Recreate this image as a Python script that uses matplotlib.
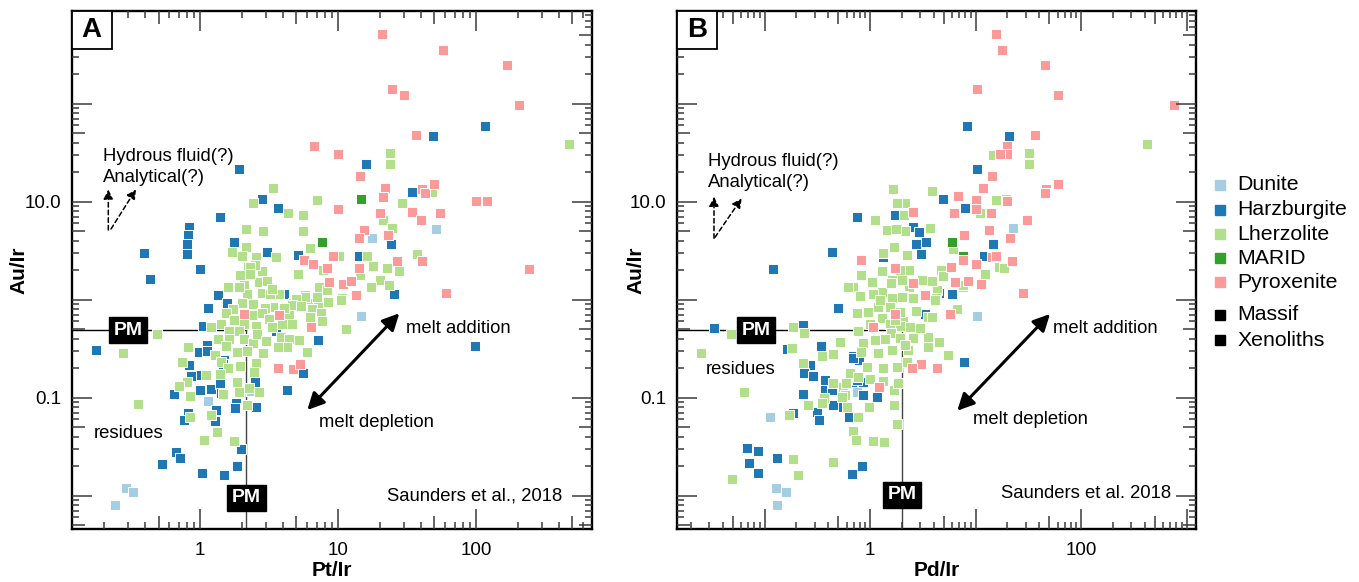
import matplotlib
matplotlib.use("Agg")
import matplotlib.pyplot as plt
import numpy as np
from matplotlib.transforms import blended_transform_factory
from matplotlib.patches import Rectangle
from matplotlib.lines import Line2D
from matplotlib.ticker import NullLocator

plt.rcParams['font.family'] = ['Liberation Sans', 'DejaVu Sans']
plt.rcParams['font.size'] = 13.3

# ---------------- data ----------------
colors = {'Dunite': '#a6cee3', 'Harzburgite': '#1f78b4', 'Lherzolite': '#b2df8a',
          'MARID': '#33a02c', 'Pyroxenite': '#fb9a99'}

pm_pt_ir = 2.17
pm_pd_ir = 2.02
pm_au_ir = 0.49

# Panel A : Pt/Ir vs Au/Ir
a_dun_x = [51.3, 17.6, 14.7, 1.15, 2.33, 0.289, 0.325, 0.24]
a_dun_y = [5.3, 4.26, 0.68, 0.0925, 0.117, 0.012, 0.0109, 0.0080]

a_hzb_x = [117, 48.6, 15.9, 34.3, 24.3, 14.2, 25.5, 98, 5.16, 1.91, 2.83, 3.69, 1.40, 0.83, 0.82,
           0.80, 0.81, 0.395, 1.77, 3.04, 0.995, 0.432, 1.35, 4.06, 1.58, 1.15, 1.05, 1.13, 0.98, 1.50,
           0.83, 1.0, 0.86, 0.648, 1.20, 1.40, 1.42, 1.82, 1.80, 2.56, 2.49, 0.78, 1.30, 1.31, 4.27,
           7.14, 5.57, 1.47, 3.55, 0.177, 1.12, 0.82, 0.76, 1.29, 1.97, 0.67, 0.72, 0.53, 1.03, 1.49,
           1.86, 1.0]
a_hzb_y = [59.2, 46.9, 24.1, 12.5, 3.70, 2.79, 1.14, 0.34, 2.84, 21.6, 10.7, 8.7, 7.0, 5.56, 4.57,
           3.70, 2.91, 3.02, 3.90, 3.09, 2.04, 1.62, 1.12, 1.14, 0.93, 0.82, 0.54, 0.342, 0.29, 0.243,
           0.216, 0.171, 0.166, 0.109, 0.123, 0.137, 0.111, 0.088, 0.079, 0.080, 0.146, 0.061, 0.064, 0.075, 0.119,
           0.385, 0.180, 0.221, 0.48, 0.307, 0.30, 0.070, 0.059, 0.058, 0.030, 0.028, 0.024, 0.021, 0.0171, 0.0163,
           0.020, 0.120]

a_lhz_x = [472, 24.0, 24.0, 48.3, 29.0, 21.2, 24.6, 10.2, 16.1, 18.0, 22.8, 27.5, 37.5, 14.4, 20.2,
           23.3, 17.2, 10.6, 11.7, 7.0, 5.55, 5.55, 6.3, 5.1, 7.3, 7.8, 5.8, 4.74, 6.1, 7.2,
           3.36, 2.43, 4.36, 2.15, 2.85, 2.15, 1.71, 2.02, 2.53, 3.57, 2.24, 2.80, 1.95, 2.68, 2.09,
           1.59, 2.19, 2.83, 3.72, 2.50, 3.07, 1.91, 3.21, 5.80, 7.04, 4.96, 4.62, 5.36, 6.48, 7.56,
           7.6, 6.26, 4.41, 4.08, 3.40, 2.94, 2.42, 2.01, 1.73, 1.53, 2.38, 2.80, 3.15, 2.08, 2.55,
           1.43, 1.20, 1.63, 1.91, 1.34, 1.63, 2.09, 2.43, 2.87, 2.19, 1.84, 1.54, 1.28, 1.43, 1.59,
           1.94, 2.56, 2.46, 0.82, 0.74, 1.10, 1.39, 1.85, 1.92, 2.68, 2.25, 2.18, 1.46, 0.81, 0.70,
           0.84, 1.21, 0.84, 0.485, 3.83, 4.44, 5.18, 5.96, 4.62, 3.9, 4.25, 3.66, 3.34, 2.30, 0.278,
           0.354, 1.07, 1.32, 1.77, 10.5, 11.5, 8.27, 8.5, 3.31, 2.30, 1.75, 2.6, 3.0]
a_lhz_y = [38.6, 31.6, 24.2, 12.7, 9.6, 6.5, 5.4, 2.79, 2.79, 2.22, 2.12, 1.98, 2.9, 1.79, 1.59,
           1.40, 1.36, 1.03, 0.51, 10.3, 7.4, 5.06, 3.37, 1.82, 1.36, 2.01, 1.11, 0.92, 0.93, 0.93,
           13.7, 9.7, 7.6, 5.3, 5.06, 3.45, 3.05, 2.79, 2.75, 2.75, 2.17, 1.98, 1.77, 1.53, 1.41,
           1.34, 1.14, 1.16, 1.14, 2.27, 1.55, 1.36, 1.14, 1.07, 1.06, 1.02, 0.88, 0.86, 0.81, 0.73,
           0.60, 0.66, 0.70, 0.82, 0.85, 0.82, 0.90, 0.93, 0.80, 0.74, 0.69, 0.73, 0.63, 0.56, 0.54,
           0.57, 0.53, 0.48, 0.48, 0.395, 0.40, 0.395, 0.36, 0.285, 0.30, 0.295, 0.337, 0.273, 0.233, 0.20,
           0.212, 0.224, 0.184, 0.327, 0.23, 0.171, 0.175, 0.145, 0.114, 0.114, 0.125, 0.084, 0.109, 0.145, 0.133,
           0.104, 0.067, 0.063, 0.45, 0.416, 0.395, 0.388, 0.293, 0.56, 0.56, 0.33, 0.33, 0.53, 2.17, 0.286,
           0.086, 0.037, 0.045, 0.036, 0.99, 0.50, 1.26, 0.95, 1.28, 1.83, 0.62, 0.45, 0.38]

a_mar_x = [14.7, 7.65]
a_mar_y = [10.6, 3.9]

a_pyx_x = [20.7, 57.8, 168, 24.7, 30.2, 206, 36.7, 10.0, 6.7, 14.5, 21.9, 21.2, 40.3, 42.4, 49.8,
           100, 120, 10.0, 20.0, 34.1, 55.0, 39.9, 15.4, 14.3, 22.9, 9.2, 40.3, 26.6, 14.3, 243,
           10.9, 12.4, 13.4, 60.6, 5.67, 6.55, 8.27, 8.53, 2.09, 3.72, 6.33, 3.69, 4.72, 5.33]
a_pyx_y = [514, 353, 247, 141, 123, 96.7, 47.6, 30.7, 37.4, 18.3, 13.7, 11.2, 13.5, 12.3, 15.3,
           10.2, 10.2, 8.4, 7.6, 7.9, 7.6, 6.5, 5.2, 4.3, 4.6, 2.8, 2.5, 2.5, 2.1, 2.06,
           1.45, 1.55, 1.12, 1.18, 2.56, 2.31, 2.09, 1.50, 0.71, 0.70, 0.53, 0.20, 0.196, 0.22]

# Panel B : Pd/Ir vs Au/Ir
b_dun_x = [0.113, 0.748, 0.128, 0.159, 0.132, 22.5, 10.4]
b_dun_y = [0.064, 0.115, 0.0121, 0.0109, 0.0080, 5.35, 0.68]

b_hzb_x = [8.30, 20.6, 10.3, 4.95, 7.95, 2.57, 2.91, 2.71, 3.40, 3.02, 14.8, 12.0, 5.95, 4.54, 7.78,
           0.758, 1.73, 0.433, 1.34, 0.121, 0.501, 0.732, 3.32, 0.341, 0.270, 0.238, 0.286, 0.375, 0.686, 0.792,
           0.864, 0.671, 1.16, 0.233, 0.375, 0.449, 0.558, 0.316, 0.326, 0.637, 0.188, 0.0332, 0.230, 0.162, 0.439,
           0.0678, 0.0873, 0.0718, 0.0862, 0.130, 0.680, 0.845, 0.748, 0.864, 0.695]
b_hzb_y = [59.2, 46.9, 21.6, 10.7, 8.7, 5.56, 4.95, 3.70, 3.90, 2.91, 3.70, 2.8, 1.14, 1.18, 0.233,
           6.9, 7.3, 3.09, 2.75, 2.04, 0.82, 0.73, 0.71, 0.337, 0.216, 0.18, 0.168, 0.15, 0.267, 0.243,
           0.146, 0.146, 0.101, 0.109, 0.12, 0.084, 0.08, 0.072, 0.059, 0.064, 0.0698, 0.52, 0.55, 0.314, 0.12,
           0.0307, 0.0284, 0.0214, 0.0171, 0.0243, 0.0165, 0.0203, 0.152, 0.106, 0.252]

b_lhz_x = [420, 32.1, 32.1, 14.6, 3.84, 15.5, 19.3, 11.0, 2.15, 2.10, 3.71, 2.15, 6.16, 2.23, 2.34,
           4.78, 12.3, 16.8, 18.8, 3.13, 3.84, 7.56, 4.29, 2.34, 2.07, 4.22, 2.67, 3.57, 3.57, 4.54,
           5.37, 2.57, 2.98, 2.07, 2.31, 2.23, 1.66, 1.79, 1.12, 1.46, 1.75, 1.69, 2.26, 1.34, 1.32,
           1.92, 0.822, 1.04, 1.61, 2.00, 0.686, 3.90, 4.68, 4.95, 7.66, 1.31, 1.06, 2.0, 1.61, 2.57,
           4.13, 1.55, 1.20, 0.964, 0.748, 2.73, 1.92, 3.90, 6.64, 1.29, 0.774, 1.0, 1.55, 1.92, 2.39,
           1.57, 1.12, 1.39, 1.92, 2.54, 0.853, 0.519, 1.18, 1.61, 3.57, 5.52, 0.433, 0.348, 0.822, 0.931,
           1.34, 1.79, 0.642, 0.774, 1.0, 1.34, 1.69, 1.83, 0.449, 0.558, 0.369, 0.579, 0.601, 0.979, 1.70,
           0.774, 1.81, 0.260, 0.233, 0.170, 0.185, 0.238, 0.182, 0.618, 0.0478, 0.0248, 0.0640, 0.686, 0.737, 1.07,
           1.37, 0.188, 0.449, 0.206, 0.0489, 0.348, 0.539, 0.588, 0.443, 1.30, 1.58, 1.24, 1.73, 2.15, 0.804]
b_lhz_y = [38.6, 31.6, 24.2, 30.0, 12.9, 10.4, 10.6, 7.6, 9.6, 7.3, 5.35, 5.02, 3.27, 2.79, 2.01,
           1.86, 1.82, 2.17, 2.12, 1.59, 1.55, 1.34, 1.26, 1.36, 1.10, 1.05, 0.79, 0.66, 0.42, 0.373,
           0.273, 0.42, 0.52, 0.60, 0.307, 0.233, 13.5, 9.6, 6.5, 5.15, 5.26, 3.48, 2.86, 3.02, 2.01,
           2.01, 1.79, 1.53, 1.59, 1.59, 1.36, 1.56, 2.01, 1.75, 1.41, 1.21, 1.14, 1.07, 1.03, 1.03,
           0.99, 0.85, 0.85, 0.75, 0.74, 0.77, 0.75, 0.67, 0.80, 0.65, 0.48, 0.56, 0.57, 0.54, 0.53,
           0.457, 0.388, 0.395, 0.41, 0.406, 0.36, 0.373, 0.286, 0.307, 0.33, 0.273, 0.286, 0.267, 0.295, 0.204,
           0.20, 0.207, 0.177, 0.164, 0.154, 0.149, 0.12, 0.141, 0.141, 0.13, 0.099, 0.107, 0.081, 0.081, 0.084,
           0.063, 0.054, 0.084, 0.226, 0.0666, 0.53, 0.457, 0.325, 1.36, 0.447, 0.286, 0.115, 0.0454, 0.037, 0.0363,
           0.0355, 0.0237, 0.0223, 0.0163, 0.0148, 0.089, 0.102, 0.141, 0.279, 1.98, 1.47, 0.99, 0.62, 0.345, 1.09]

b_mar_x = [5.95, 7.66]
b_mar_y = [3.9, 2.79]

b_pyx_x = [15.5, 17.7, 45.6, 10.3, 60.1, 762, 36.6, 19.9, 19.9, 17.1, 14.2, 11.8, 6.87, 10.0, 19.9,
           46.6, 60.1, 45.9, 2.56, 6.25, 10.0, 14.0, 31.0, 13.5, 7.83, 21.2, 7.56, 10.2, 14.2, 15.6,
           22.3, 5.82, 6.44, 8.49, 11.3, 2.56, 3.34, 28.0, 5.77, 3.02, 2.52, 4.35, 0.817, 1.74, 1.71,
           1.06, 1.22]
b_pyx_y = [514, 353, 247, 141, 123, 96.7, 47.6, 37.4, 30.5, 30.7, 18.3, 13.7, 11.4, 10.4, 10.2,
           13.6, 15.3, 12.3, 7.85, 7.6, 8.4, 7.6, 6.5, 5.2, 4.6, 4.3, 2.54, 2.30, 2.75, 2.8,
           2.47, 2.14, 1.53, 1.55, 1.44, 1.49, 1.12, 1.18, 0.71, 0.221, 0.202, 0.20, 2.54, 2.09, 0.71,
           0.53, 0.128]

panel_a = [('Dunite', a_dun_x, a_dun_y), ('Harzburgite', a_hzb_x, a_hzb_y),
           ('Lherzolite', a_lhz_x, a_lhz_y), ('MARID', a_mar_x, a_mar_y),
           ('Pyroxenite', a_pyx_x, a_pyx_y)]
panel_b = [('Dunite', b_dun_x, b_dun_y), ('Harzburgite', b_hzb_x, b_hzb_y),
           ('Lherzolite', b_lhz_x, b_lhz_y), ('MARID', b_mar_x, b_mar_y),
           ('Pyroxenite', b_pyx_x, b_pyx_y)]

legend_items = ['Dunite', 'Harzburgite', 'Lherzolite', 'MARID', 'Pyroxenite']
legend_types = ['Massif', 'Xenoliths']

# ---------------- layout ----------------
W, H = 1359, 582
fig = plt.figure(figsize=(W / 100, H / 100), dpi=100)


def px_rect(l, t, r, b):
    return [l / W, 1 - b / H, (r - l) / W, (b - t) / H]


axA = fig.add_axes(px_rect(72, 10.7, 592, 529.3))
axB = fig.add_axes(px_rect(677.3, 10.7, 1196, 529.3))

lims = {axA: ((0.118, 693), (0.00454, 889)), axB: ((0.0149, 1230), (0.00454, 889))}
for ax, (xl, yl) in lims.items():
    ax.set_xscale('log')
    ax.set_yscale('log')
    ax.set_xlim(*xl)
    ax.set_ylim(*yl)


def pxy(ax, px, py):
    return tuple(ax.transData.inverted().transform((px, H - py)))


def logticks(ax, axis, lo, hi, len_px):
    if axis == 'x':
        tr = blended_transform_factory(ax.transData, ax.transAxes)
    else:
        tr = blended_transform_factory(ax.transAxes, ax.transData)
    for e in range(int(np.floor(np.log10(lo))), int(np.ceil(np.log10(hi))) + 1):
        for m in range(1, 10):
            v = m * 10.0 ** e
            if not (lo < v < hi):
                continue
            L = (20 if m == 1 else 13 if m == 5 else 7) / len_px
            for a, b in [(0, L), (1 - L, 1)]:
                if axis == 'x':
                    ax.plot([v, v], [a, b], transform=tr, color='#3a3a3a', lw=1.1,
                            zorder=4, clip_on=False, solid_capstyle='butt')
                else:
                    ax.plot([a, b], [v, v], transform=tr, color='#3a3a3a', lw=1.1,
                            zorder=4, clip_on=False, solid_capstyle='butt')


def draw_panel(ax, groups, pm_x, letter, xlabel, xticks, xticklabels, ylabel_x_px,
               ax_left_px, ax_w_px, txt):
    (x0, x1), (y0, y1) = lims[ax]
    for name, xs, ys in groups:
        ax.scatter(xs, ys, s=62, marker='s', c=colors[name], edgecolors='white',
                   linewidths=0.7, zorder=3)
    # primitive mantle reference lines
    ax.plot([x0, pm_x], [pm_au_ir, pm_au_ir], color='black', lw=1.0, zorder=1)
    ax.plot([pm_x, pm_x], [y0, pm_au_ir], color='#444444', lw=1.0, zorder=1)
    pm_box = dict(boxstyle='square,pad=0.24', fc='black', ec='black')
    hx, hy = pxy(ax, txt['pm_h'], 330.5)
    ax.text(hx, pm_au_ir, 'PM', color='white', fontweight='bold', fontsize=14,
            ha='center', va='center', bbox=pm_box, zorder=6)
    vx, vy = pxy(ax, 0, txt['pm_v'])
    ax.text(pm_x, vy, 'PM', color='white', fontweight='bold', fontsize=14,
            ha='center', va='center', bbox=pm_box, zorder=6)

    # annotations
    ax.text(*pxy(ax, txt['hyd'][0], txt['hyd'][1]), 'Hydrous fluid(?)', ha='left', va='baseline')
    ax.text(*pxy(ax, txt['hyd'][0], txt['hyd'][1] + 21), 'Analytical(?)', ha='left', va='baseline')
    dprops = dict(arrowstyle='-|>', color='black', lw=1.1, linestyle=(0, (3, 2)),
                  mutation_scale=14, shrinkA=0, shrinkB=0)
    for (tx, ty, hx2, hy2) in txt['dash']:
        ax.annotate('', xy=pxy(ax, hx2, hy2), xytext=pxy(ax, tx, ty), arrowprops=dprops)
    ax.text(*pxy(ax, *txt['res']), 'residues', ha='left', va='baseline')
    ax.text(*pxy(ax, *txt['dep']), 'melt depletion', ha='left', va='baseline')
    ax.text(*pxy(ax, *txt['add']), 'melt addition', ha='left', va='baseline')
    ax.annotate('', xy=pxy(ax, *txt['arr'][1]), xytext=pxy(ax, *txt['arr'][0]),
                arrowprops=dict(arrowstyle='<|-|>', color='black', lw=2.2,
                                mutation_scale=25, shrinkA=0, shrinkB=0))
    ax.text(*pxy(ax, *txt['ref'][1:]), txt['ref'][0], ha='right', va='baseline')

    # panel letter box
    bw = 39.5 / ax_w_px
    bh = 38.6 / 518.6
    ax.add_patch(Rectangle((0, 1 - bh), bw, bh, transform=ax.transAxes, fc='white',
                           ec='black', lw=1.3, zorder=7, clip_on=False))
    ax.text(bw / 2, 1 - bh / 2, letter, transform=ax.transAxes, ha='center', va='center',
            fontsize=20, fontweight='bold', zorder=8)

    # ticks
    ax.xaxis.set_minor_locator(NullLocator())
    ax.yaxis.set_minor_locator(NullLocator())
    ax.set_xticks(xticks)
    ax.set_xticklabels(xticklabels)
    ax.set_yticks([10, 0.1])
    ax.set_yticklabels(['10.0', '0.1'])
    ax.tick_params(axis='both', which='both', length=0, labelsize=13.5)
    ax.tick_params(axis='x', pad=9)
    ax.tick_params(axis='y', pad=8)
    logticks(ax, 'x', x0, x1, 518.6)
    logticks(ax, 'y', y0, y1, ax_w_px)
    for s in ax.spines.values():
        s.set_linewidth(1.7)
        s.set_color('black')
    ax.set_xlabel(xlabel, fontweight='bold', fontsize=15)
    ax.set_ylabel('Au/Ir', fontweight='bold', fontsize=15)
    ax.xaxis.label.set_va('center')
    ax.xaxis.set_label_coords(0.5, -(570 - 529.3) / 518.6)
    ax.yaxis.label.set_va('center')
    ax.yaxis.label.set_rotation_mode('anchor')
    ax.yaxis.set_label_coords((ylabel_x_px - ax_left_px) / ax_w_px, 0.5)
    ax.set_xlim(x0, x1)
    ax.set_ylim(y0, y1)


txtA = dict(pm_h=128.3, pm_v=497.8, hyd=(103, 160.5),
            dash=[(108.3, 230, 108.3, 189.5), (111, 229, 136, 189.3)],
            res=(93.3, 438.3), dep=(319.3, 426.7), add=(406, 333.3),
            arr=((307.3, 410), (399.3, 313.3)), ref=('Saunders et al., 2018', 562.3, 500.7))
txtB = dict(pm_h=756, pm_v=494.8, hyd=(708.3, 165.7),
            dash=[(714, 238.3, 714, 196.7), (715, 237.3, 741.7, 198.3)],
            res=(705.3, 374.3), dep=(972.7, 424), add=(1053.3, 333.3),
            arr=((957.3, 410.7), (1050, 314)), ref=('Saunders et al. 2018', 1170.7, 498.3))

draw_panel(axA, panel_a, pm_pt_ir, 'A', 'Pt/Ir', [1, 10, 100], ['1', '10', '100'], 19,
           72, 520, txtA)
draw_panel(axB, panel_b, pm_pd_ir, 'B', 'Pd/Ir', [1, 100], ['1', '100'], 636,
           677.3, 518.7, txtB)

# ---------------- legend ----------------
rows = [185, 209.5, 234, 258, 282]
for name, yy in zip(legend_items, rows):
    fig.add_artist(Line2D([1219.5 / W], [1 - yy / H], marker='s', ms=6.8, color=colors[name],
                          linestyle='none', transform=fig.transFigure))
    fig.text(1237.3 / W, 1 - yy / H, name, ha='left', va='center', fontsize=15.3)
for name, yy in zip(legend_types, [315, 340]):
    fig.add_artist(Line2D([1219.5 / W], [1 - yy / H], marker='s', ms=6.8, color='black',
                          linestyle='none', transform=fig.transFigure))
    fig.text(1237.3 / W, 1 - yy / H, name, ha='left', va='center', fontsize=15.3)

fig.savefig('out.png', dpi=100)
